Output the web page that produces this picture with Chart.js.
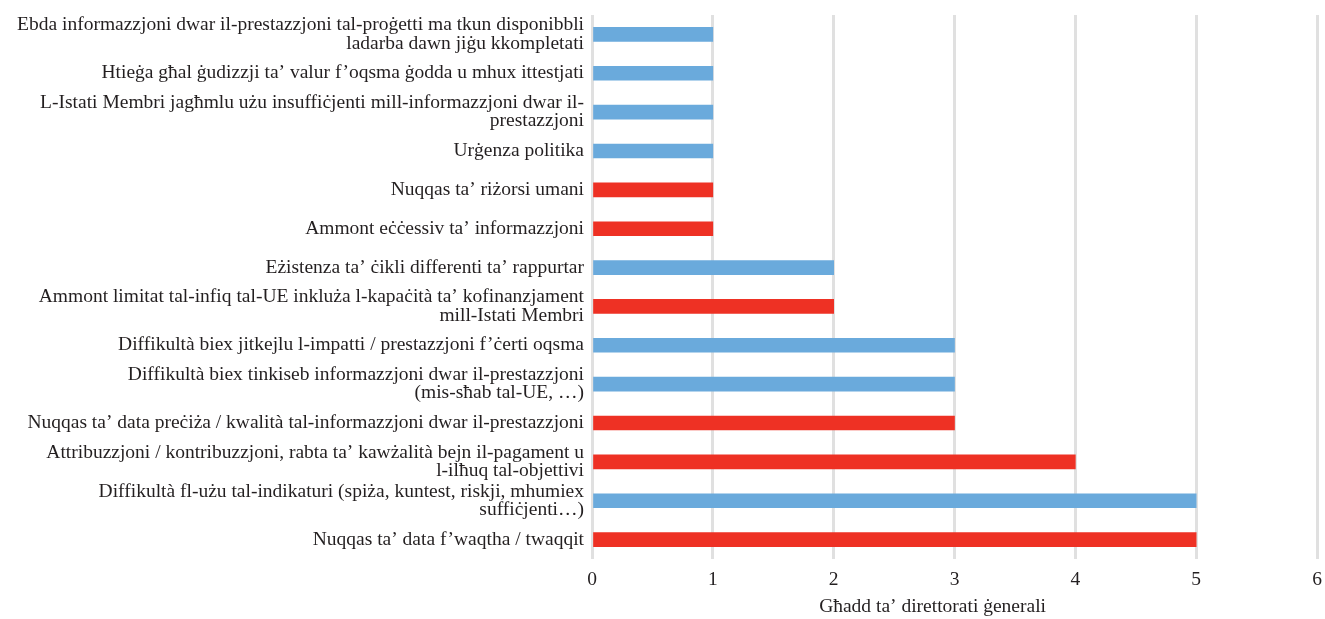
<!DOCTYPE html>
<html>
<head>
<meta charset="utf-8">
<script src="https://cdn.jsdelivr.net/npm/chart.js@4/dist/chart.umd.min.js"></script>
<style>
  html, body { margin: 0; padding: 0; background: #fff; }
  #wrap { width: 1325px; height: 619px; position: relative; }
</style>
</head>
<body>
<div id="wrap"><canvas id="c"></canvas></div>
<script>
const categories = [
  ["Ebda informazzjoni dwar il-prestazzjoni tal-proġetti ma tkun disponibbli", "ladarba dawn jiġu kkompletati"],
  "Htieġa għal ġudizzji ta’ valur f’oqsma ġodda u mhux ittestjati",
  ["L-Istati Membri jagħmlu użu insuffiċjenti mill-informazzjoni dwar il-", "prestazzjoni"],
  "Urġenza politika",
  "Nuqqas ta’ riżorsi umani",
  "Ammont eċċessiv ta’ informazzjoni",
  "Eżistenza ta’ ċikli differenti ta’ rappurtar",
  ["Ammont limitat tal-infiq tal-UE inkluża l-kapaċità ta’ kofinanzjament", "mill-Istati Membri"],
  "Diffikultà biex jitkejlu l-impatti / prestazzjoni f’ċerti oqsma",
  ["Diffikultà biex tinkiseb informazzjoni dwar il-prestazzjoni", "(mis-sħab tal-UE, …)"],
  "Nuqqas ta’ data preċiża / kwalità tal-informazzjoni dwar il-prestazzjoni",
  ["Attribuzzjoni / kontribuzzjoni, rabta ta’ kawżalità bejn il-pagament u", "l-ilħuq tal-objettivi"],
  ["Diffikultà fl-użu tal-indikaturi (spiża, kuntest, riskji, mhumiex", "suffiċjenti…)"],
  "Nuqqas ta’ data f’waqtha / twaqqit"
];
const values = [1, 1, 1, 1, 1, 1, 2, 2, 3, 3, 3, 4, 5, 5];
const groups = ["A","A","A","A","B","B","A","B","A","A","B","B","A","B"];
const xTicks = [0, 1, 2, 3, 4, 5, 6];
const xTitle = "Għadd ta’ direttorati ġenerali";

const groupColors = { A: "#6aaadc", B: "#ee3124" };
const FONT = "'Liberation Serif', 'DejaVu Serif', serif";

new Chart(document.getElementById("c"), {
  type: "bar",
  data: {
    labels: categories,
    datasets: [{
      data: values,
      backgroundColor: groups.map(g => groupColors[g]),
      barThickness: 14,
      borderWidth: 0
    }]
  },
  options: {
    indexAxis: "y",
    responsive: true,
    maintainAspectRatio: false,
    animation: false,
    layout: { padding: { top: 15, right: 0, bottom: 2, left: 0 } },
    plugins: { legend: { display: false }, tooltip: { enabled: false } },
    scales: {
      x: {
        min: 0, max: 6,
        afterBuildTicks: s => { s.ticks = xTicks.map(v => ({ value: v })); },
        afterFit: s => { s.paddingLeft = 0; s.paddingRight = 8; s.height = 58; },
        grid: { color: "#e0e0e0", lineWidth: 3, drawTicks: false },
        border: { display: false },
        ticks: { color: "#231f20", font: { family: FONT, size: 19.5, lineHeight: 1.0 }, padding: 11 },
        title: { display: true, text: xTitle + "\u00a0".repeat(9), color: "#231f20", font: { family: FONT, size: 19.5, lineHeight: 1.0 }, padding: { top: 8, bottom: 0 } }
      },
      y: {
        afterFit: s => { s.width = 592; s.paddingTop = 0; s.paddingBottom = 0; },
        grid: { display: false, drawTicks: false, tickLength: 0 },
        border: { display: false },
        ticks: { color: "#231f20", font: { family: FONT, size: 19.5, lineHeight: 0.93 }, padding: 8, autoSkip: false }
      }
    }
  }
});
</script>
</body>
</html>
